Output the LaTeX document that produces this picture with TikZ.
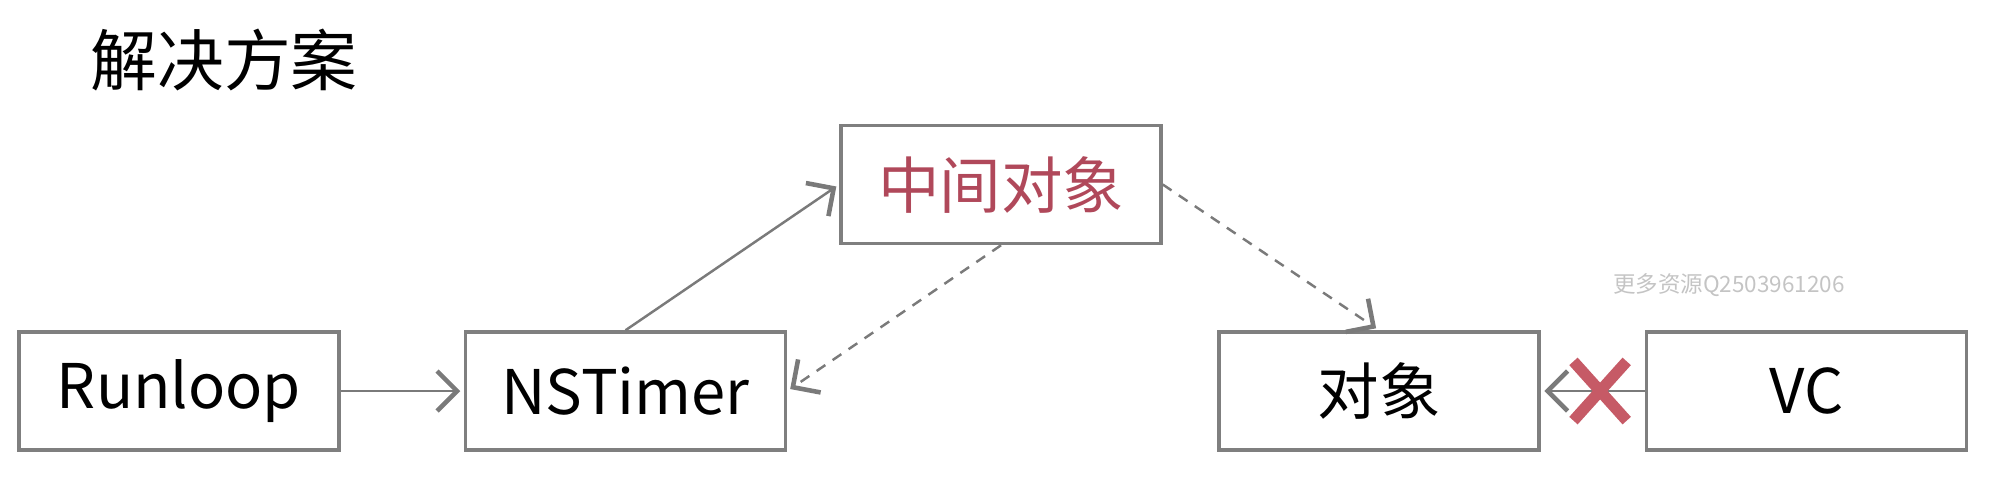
\documentclass[tikz,border=0pt]{standalone}
\usepackage{fontspec}
\setmainfont{Noto Sans CJK SC}
\usepackage{tikz}
\usetikzlibrary{arrows.meta,calc,positioning,shapes.misc}
\definecolor{boxgray}{HTML}{7F7F7F}
\definecolor{linegray}{HTML}{7A7A7A}
\definecolor{midred}{HTML}{B0485A}
\definecolor{xred}{HTML}{C65A66}
\definecolor{markgray}{HTML}{C4C4C4}
\tikzset{%
        >={Straight Barb[length=2mm,width=4mm,line width=1.3pt]},
        node distance=1.23cm
}
\tikzstyle{obox}=[
    draw = boxgray,
    line width = 1pt,
    minimum width = 3.2cm,
    minimum height = 1.18cm,
    font = \fontsize{17.5}{20}\selectfont
]
\tikzstyle{link}=[
    ->,
    draw = linegray,
    line width = 0.7pt,
    shorten > = 1pt
]
\tikzstyle{weak}=[
    link,
    dash pattern = on 3pt off 2.5pt
]
\begin{document}
\begin{tikzpicture}
        \useasboundingbox (0,0) rectangle (19.9,4.9);
        \node (title) at (2.24,4.30) {\fontsize{19}{22}\selectfont 解决方案};
        \node[obox] (rl) at (1.79,0.99) {Runloop};
        \node[obox] (nt) [right=of rl] {NSTimer};
        \node[obox, text=midred] (mid) at (10.01,3.055) {中间对象};
        \node[obox] (obj) [right=4.3cm of nt] {对象};
        \node[obox] (vc) [right=1.04cm of obj] {VC};
        \node[text=markgray, font=\fontsize{6.4}{8}\selectfont] (wm) at (17.29,2.05) {更多资源Q2503961206};
      \path
      (rl) edge[link] (nt)
      (nt.north) edge[link] (mid.west)
      (mid.south) edge[weak] (nt.east)
      (mid.east) edge[weak] (obj.north)
      (vc) edge[link] (obj)
      ;
        \node[cross out, draw=xred, line width=3.2pt, minimum width=0.42cm,
              minimum height=0.48cm] (no) at ($(obj.east)!0.57!(vc.west)$) {};
    \end{tikzpicture}
\end{document}
